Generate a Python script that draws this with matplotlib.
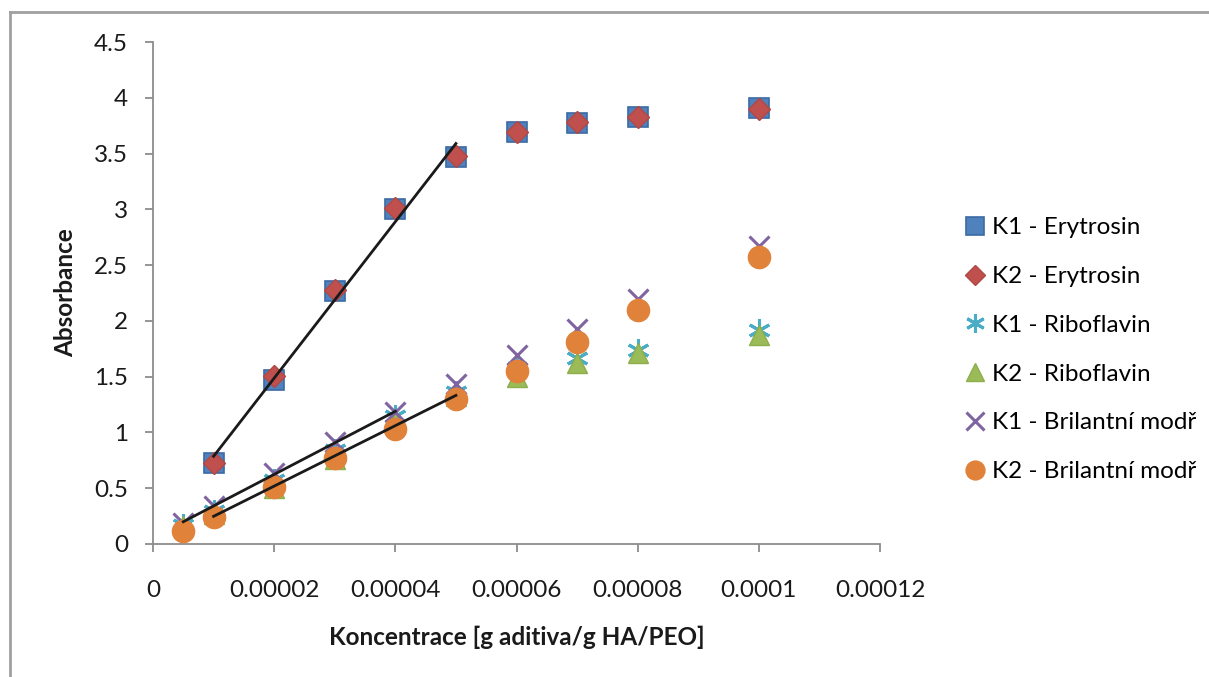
import numpy as np
import matplotlib
matplotlib.use("Agg")
import matplotlib.pyplot as plt
from matplotlib.lines import Line2D

plt.rcParams['font.family'] = ['Lato', 'DejaVu Sans']

# ---- data ----
x_ery = [1e-5, 2e-5, 3e-5, 4e-5, 5e-5, 6e-5, 7e-5, 8e-5, 1e-4]
k1_ery = [0.73, 1.47, 2.27, 3.00, 3.47, 3.69, 3.77, 3.83, 3.91]
k2_ery = [0.73, 1.51, 2.28, 3.01, 3.48, 3.69, 3.78, 3.83, 3.90]

x_other = [5e-6, 1e-5, 2e-5, 3e-5, 4e-5, 5e-5, 6e-5, 7e-5, 8e-5, 1e-4]
k1_ribo = [0.17, 0.30, 0.57, 0.84, 1.15, 1.36, 1.58, 1.67, 1.74, 1.92]
k2_ribo = [0.16, 0.27, 0.50, 0.76, 1.09, 1.33, 1.50, 1.62, 1.71, 1.87]
k1_bril = [0.19, 0.34, 0.64, 0.91, 1.18, 1.43, 1.69, 1.93, 2.20, 2.67]
k2_bril = [0.12, 0.24, 0.51, 0.77, 1.03, 1.30, 1.55, 1.81, 2.10, 2.57]

labels = ["K1 - Erytrosin", "K2 - Erytrosin", "K1 - Riboflavin",
          "K2 - Riboflavin", "K1 - Brilantní modř", "K2 - Brilantní modř"]

x_ticks = [0, 0.00002, 0.00004, 0.00006, 0.00008, 0.0001, 0.00012]
x_ticklabels = ["0", "0.00002", "0.00004", "0.00006", "0.00008", "0.0001", "0.00012"]
y_ticks = [0, 0.5, 1, 1.5, 2, 2.5, 3, 3.5, 4, 4.5]
y_ticklabels = ["0", "0.5", "1", "1.5", "2", "2.5", "3", "3.5", "4", "4.5"]

FS = 17.5

fig = plt.figure(figsize=(12.09, 6.77), dpi=100)
ax = fig.add_axes([153/1209, 1-544/677, (880-153)/1209, (544-42)/677])

# markers
ax.plot(x_ery, k1_ery, ls='none', marker='s', ms=15, mfc='#4F81BD', mec='#3A6BA5', mew=1.2,
        label=labels[0], zorder=3)
ax.plot(x_ery, k2_ery, ls='none', marker='D', ms=11.5, mfc='#C0504D', mec='#B04845', mew=1,
        label=labels[1], zorder=4)
ax.plot(x_other, k1_ribo, ls='none', marker=(6, 2, 0), ms=16, mec='#4BACC6', mfc='none', mew=2.2,
        label=labels[2], zorder=3)
ax.plot(x_other, k2_ribo, ls='none', marker='^', ms=15, mfc='#9BBB59', mec='#8DAE4C', mew=1,
        label=labels[3], zorder=3)
ax.plot(x_other, k1_bril, ls='none', marker='x', ms=15, mec='#8064A2', mew=2.2,
        label=labels[4], zorder=3)
ax.plot(x_other, k2_bril, ls='none', marker='o', ms=16, mfc='#E0823A', mec='#E0823A', mew=1,
        label=labels[5], zorder=4)

# linear trendlines (least-squares fits on the linear ranges)
def trend(xs, ys):
    xs = np.array(xs); ys = np.array(ys)
    p = np.polyfit(xs, ys, 1)
    ax.plot([xs[0], xs[-1]], np.polyval(p, [xs[0], xs[-1]]), color='#1a1a1a', lw=2, zorder=5)

trend(x_ery[:5], k1_ery[:5])
trend(x_other[:5], k1_bril[:5])
trend(x_other[1:6], k2_ribo[1:6])

ax.set_xlim(0, 0.00012)
ax.set_ylim(0, 4.5)
ax.set_xticks(x_ticks)
ax.set_xticklabels(x_ticklabels)
ax.set_yticks(y_ticks)
ax.set_yticklabels(y_ticklabels)

for s in ['top', 'right']:
    ax.spines[s].set_visible(False)
for s in ['left', 'bottom']:
    ax.spines[s].set_color('#8C8C8C')
    ax.spines[s].set_linewidth(1.3)
ax.tick_params(axis='both', colors='#8C8C8C', length=6, width=1.3, labelsize=FS,
               labelcolor='#1a1a1a')
ax.tick_params(axis='x', pad=20)
ax.tick_params(axis='y', pad=12)

ax.set_xlabel("Koncentrace [g aditiva/g HA/PEO]", fontsize=FS, fontweight='bold',
              labelpad=18, color='#1a1a1a')
ax.set_ylabel("Absorbance", fontsize=FS, fontweight='bold', labelpad=12, color='#1a1a1a')

leg = ax.legend(loc='center left', bbox_to_anchor=(1.087, 0.387), frameon=False,
                fontsize=FS, handlelength=0.8, handletextpad=0.3, labelspacing=1.14,
                markerscale=0.85)

# chart area border (left and top visible)
fig.add_artist(Line2D([10/1209, 10/1209], [0, 1-12/677], transform=fig.transFigure,
                      color='#A0A0A0', lw=2))
fig.add_artist(Line2D([10/1209, 1], [1-12/677, 1-12/677], transform=fig.transFigure,
                      color='#A0A0A0', lw=2))

fig.savefig("out.png", dpi=100)
